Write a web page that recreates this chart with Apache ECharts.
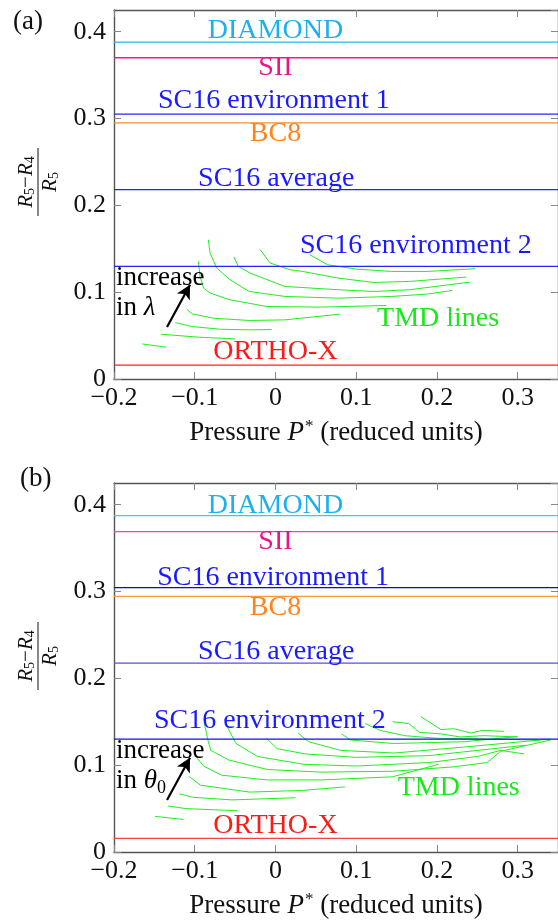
<!DOCTYPE html>
<html>
<head>
<meta charset="utf-8">
<script src="https://cdn.jsdelivr.net/npm/echarts@6/dist/echarts.min.js"></script>
<style>
  html, body { margin: 0; padding: 0; background: #fff; }
  #chart { width: 558px; height: 922px; }
</style>
</head>
<body>
<div id="chart"></div>
<script>
// reference structures (horizontal lines)
const refNames = ['DIAMOND', 'SII', 'SC16 environment 1', 'BC8', 'SC16 average', 'SC16 environment 2', 'ORTHO-X'];
const refValuesA = [0.388, 0.370, 0.305, 0.295, 0.218, 0.1297, 0.016];
const refValuesB = [0.3875, 0.369, 0.3045, 0.2945, 0.2176, 0.130, 0.0157];

// TMD lines, panel (a): increasing lambda
const tmdA = [
  [[-0.165, 0.0404], [-0.135, 0.0366]],
  [[-0.142, 0.0516], [-0.094, 0.0481], [-0.050, 0.0462]],
  [[-0.124, 0.065], [-0.103, 0.0604], [-0.068, 0.0573], [-0.0325, 0.0566], [-0.0047, 0.057]],
  [[-0.110, 0.0804], [-0.103, 0.075], [-0.0765, 0.070], [-0.0325, 0.0674], [0.0116, 0.0681], [0.080, 0.0747]],
  [[-0.0955, 0.1355], [-0.0934, 0.1181], [-0.089, 0.1047], [-0.081, 0.099], [-0.0563, 0.0912], [-0.0104, 0.0835], [0.0557, 0.0828], [0.1373, 0.0847]],
  [[-0.0832, 0.1605], [-0.081, 0.145], [-0.0727, 0.1278], [-0.0563, 0.1143], [-0.0325, 0.1008], [0.0116, 0.0951], [0.0778, 0.0931], [0.1439, 0.0951], [0.188, 0.0978], [0.2189, 0.102]],
  [[-0.0514, 0.1405], [-0.046, 0.1297], [-0.0315, 0.122], [0.0116, 0.1066], [0.0778, 0.1028], [0.1219, 0.1008], [0.166, 0.1028], [0.2409, 0.1116]],
  [[-0.019, 0.149], [-0.0067, 0.1336], [0.018, 0.1259], [0.0337, 0.1239], [0.0778, 0.1162], [0.1219, 0.1112], [0.166, 0.1124], [0.2365, 0.1174]],
  [[0.0425, 0.1432], [0.0645, 0.1316], [0.0998, 0.1266], [0.144, 0.1239], [0.188, 0.1239], [0.2475, 0.127]]
];

// TMD lines, panel (b): increasing theta0
const tmdB = [
  [[-0.149, 0.041], [-0.114, 0.0375]],
  [[-0.133, 0.053], [-0.111, 0.050], [-0.047, 0.0475]],
  [[-0.119, 0.067], [-0.102, 0.063], [-0.054, 0.060], [0.025, 0.0625]],
  [[-0.107, 0.087], [-0.093, 0.077], [-0.032, 0.069], [0.035, 0.071], [0.086, 0.075]],
  [[-0.097, 0.108], [-0.089, 0.099], [-0.067, 0.0885], [-0.010, 0.083], [0.057, 0.083], [0.145, 0.0866], [0.202, 0.101]],
  [[-0.088, 0.148], [-0.084, 0.130], [-0.080, 0.117], [-0.058, 0.106], [-0.010, 0.095], [0.057, 0.092], [0.145, 0.093], [0.22, 0.098], [0.262, 0.103], [0.279, 0.116], [0.341, 0.129]],
  [[-0.059, 0.143], [-0.049, 0.125], [-0.022, 0.110], [0.035, 0.101], [0.10, 0.099], [0.19, 0.103], [0.25, 0.110], [0.279, 0.117], [0.308, 0.113]],
  [[-0.011, 0.131], [0.002, 0.119], [0.037, 0.113], [0.10, 0.109], [0.19, 0.111], [0.23, 0.115], [0.31, 0.123]],
  [[0.028, 0.137], [0.041, 0.127], [0.081, 0.117], [0.147, 0.114], [0.235, 0.121], [0.34, 0.13]],
  [[0.082, 0.136], [0.093, 0.129], [0.146, 0.125], [0.234, 0.127], [0.30, 0.133]],
  [[0.111, 0.148], [0.13, 0.140], [0.16, 0.134], [0.2, 0.131], [0.26, 0.130], [0.326, 0.129]],
  [[0.145, 0.150], [0.165, 0.148], [0.178, 0.138], [0.205, 0.136], [0.229, 0.1325], [0.258, 0.134], [0.30, 0.1325]],
  [[0.180, 0.156], [0.205, 0.141], [0.221, 0.142], [0.242, 0.137], [0.256, 0.140], [0.283, 0.139]]
];

const FONT = 'Liberation Serif';
const refColorsA = ['#29b6f0', '#ec1c8c', '#2424ff', '#ff8c28', '#2424ff', '#2424ff', '#ff2222'];
const refColorsB = ['#4cc0ee', '#e84c9c', '#12129a', '#ff9a3c', '#5050f5', '#1010e0', '#ff4040'];
const textColors = ['#1fb0ec', '#e8168a', '#1a1aff', '#ff8420', '#1a1aff', '#1a1aff', '#ff1a1a'];
const green = '#22ee22';

// where each label sits (data coords) -- layout only
const labelPosA = [[0, 0.4007], [0, 0.359], [-0.002, 0.321], [0, 0.283], [0.001, 0.231], [0.174, 0.1536], [0, 0.031]];
const labelPosB = [[0, 0.399], [0, 0.3575], [-0.003, 0.316], [0, 0.2816], [0.001, 0.231], [-0.007, 0.1517], [0, 0.030]];

const chart = echarts.init(document.getElementById('chart'));

const grids = [
  { left: 114, top: 10, width: 444, height: 369 },
  { left: 114, top: 483, width: 444, height: 369 }
];

function fmt(v) {
  if (v === 0) return '0';
  return (v < 0 ? '\u2212' : '') + Math.abs(v).toFixed(1);
}

const axisLineStyle = { color: '#555', width: 1.4 };
const tickStyle = { color: '#888', width: 1 };

const xAxes = [], yAxes = [];
grids.forEach((g, i) => {
  xAxes.push({
    type: 'value', gridIndex: i, min: -0.2, max: 0.35, interval: 0.1, position: 'bottom',
    splitLine: { show: false },
    axisLine: { onZero: false, lineStyle: axisLineStyle },
    axisTick: { inside: true, length: 7, lineStyle: tickStyle },
    axisLabel: { formatter: fmt, fontFamily: FONT, fontSize: 26, color: '#111', margin: 6, showMaxLabel: false },
    name: 'Pressure {i|P}{sup|*} (reduced units)',
    nameLocation: 'middle', nameGap: 39,
    nameTextStyle: {
      fontFamily: FONT, fontSize: 27, color: '#111',
      rich: {
        i: { fontFamily: FONT, fontStyle: 'italic', fontSize: 27, color: '#111' },
        sup: { fontFamily: FONT, fontSize: 17, color: '#111', padding: [0, 0, 12, 1] }
      }
    }
  });
  xAxes.push({
    type: 'value', gridIndex: i, min: -0.2, max: 0.35, interval: 0.1, position: 'top',
    splitLine: { show: false },
    axisLine: { onZero: false, lineStyle: axisLineStyle },
    axisTick: { inside: true, length: 7, lineStyle: tickStyle },
    axisLabel: { show: false }
  });
  yAxes.push({
    type: 'value', gridIndex: i, min: 0, max: 0.425, interval: 0.1, position: 'left',
    splitLine: { show: false },
    axisLine: { onZero: false, lineStyle: axisLineStyle },
    axisTick: { inside: true, length: 7, lineStyle: tickStyle },
    axisLabel: { formatter: fmt, fontFamily: FONT, fontSize: 26, color: '#111', margin: 8 }
  });
  yAxes.push({
    type: 'value', gridIndex: i, min: 0, max: 0.425, interval: 0.1, position: 'right',
    splitLine: { show: false },
    axisLine: { onZero: false, lineStyle: axisLineStyle },
    axisTick: { inside: true, length: 7, lineStyle: tickStyle },
    axisLabel: { show: false }
  });
});

const series = [];

function addPanel(i, refValues, refColors, tmd, labelPos, arrowWord) {
  const xi = i * 2, yi = i * 2;
  refValues.forEach((v, k) => {
    series.push({
      type: 'line', xAxisIndex: xi, yAxisIndex: yi, silent: true, symbol: 'none',
      data: [[-0.2, v], [0.35, v]],
      lineStyle: { color: refColors[k], width: 1.3 }, z: 3
    });
  });
  tmd.forEach(curve => {
    series.push({
      type: 'line', xAxisIndex: xi, yAxisIndex: yi, silent: true, symbol: 'none',
      data: curve, lineStyle: { color: green, width: 1 }, z: 2
    });
  });
  // text labels
  const labelData = refNames.map((n, k) => ({
    value: labelPos[k],
    label: { formatter: n, color: textColors[k] }
  }));
  labelData.push({ value: i === 0 ? [0.2015, 0.0693] : [0.227, 0.0736], label: { formatter: 'TMD lines', color: '#18ea18' } });
  series.push({
    type: 'scatter', xAxisIndex: xi, yAxisIndex: yi, silent: true, symbolSize: 0,
    itemStyle: { opacity: 1 },
    data: labelData,
    label: { show: true, position: 'inside', fontFamily: FONT, fontSize: 28 },
    z: 5
  });
  // "increase in ..." annotation with arrow
  series.push({
    type: 'scatter', xAxisIndex: xi, yAxisIndex: yi, silent: true, symbolSize: 0,
    itemStyle: { opacity: 1 },
    data: [
      { value: [-0.1975, 0.1166], label: { formatter: 'increase' } },
      { value: [-0.1975, 0.082], label: { formatter: arrowWord } }
    ],
    label: {
      show: true, position: 'right', distance: 0, fontFamily: FONT, fontSize: 27, color: '#000',
      rich: {
        it: { fontFamily: FONT, fontStyle: 'italic', fontSize: 27, color: '#000' },
        sub: { fontFamily: FONT, fontSize: 18, color: '#000', padding: [14, 0, 0, 0] }
      }
    },
    markLine: {
      silent: true, symbol: ['none', 'arrow'], symbolSize: [11, 14],
      lineStyle: { color: '#000', width: 2.2, type: 'solid' },
      label: { show: false },
      data: [[{ coord: [-0.1343, 0.060] }, { coord: [-0.1058, 0.1085] }]]
    },
    z: 6
  });
}

addPanel(0, refValuesA, refColorsA, tmdA, labelPosA, 'in {it|λ}');
addPanel(1, refValuesB, refColorsB, tmdB, labelPosB, 'in {it|θ}{sub|0}');

function yName(cy) {
  return {
    type: 'group', x: 38, y: cy, rotation: Math.PI / 2,
    children: [
      {
        type: 'text', x: 0, y: -12,
        style: {
          text: '{i|R}{s|5}{n|\u2212}{i|R}{s|4}', align: 'center', verticalAlign: 'middle',
          rich: {
            i: { fontFamily: FONT, fontStyle: 'italic', fontSize: 21, fill: '#111' },
            s: { fontFamily: FONT, fontSize: 14, fill: '#111', padding: [8, 0, 0, 0] },
            n: { fontFamily: FONT, fontSize: 21, fill: '#111' }
          }
        }
      },
      { type: 'line', shape: { x1: -34, y1: 0, x2: 34, y2: 0 }, style: { stroke: '#111', lineWidth: 1 } },
      {
        type: 'text', x: 0, y: 12,
        style: {
          text: '{i|R}{s|5}', align: 'center', verticalAlign: 'middle',
          rich: {
            i: { fontFamily: FONT, fontStyle: 'italic', fontSize: 21, fill: '#111' },
            s: { fontFamily: FONT, fontSize: 14, fill: '#111', padding: [8, 0, 0, 0] }
          }
        }
      }
    ]
  };
}

const option = {
  backgroundColor: '#fff',
  animation: false,
  grid: grids,
  xAxis: xAxes,
  yAxis: yAxes,
  series: series,
  graphic: [
    { type: 'text', left: 13, top: 8, style: { text: '(a)', fontFamily: FONT, fontSize: 27, fill: '#111' } },
    { type: 'text', left: 20, top: 465, style: { text: '(b)', fontFamily: FONT, fontSize: 27, fill: '#111' } },
    yName(182),
    yName(656)
  ]
};

chart.setOption(option);
window.onresize = chart.resize;
</script>
</body>
</html>
